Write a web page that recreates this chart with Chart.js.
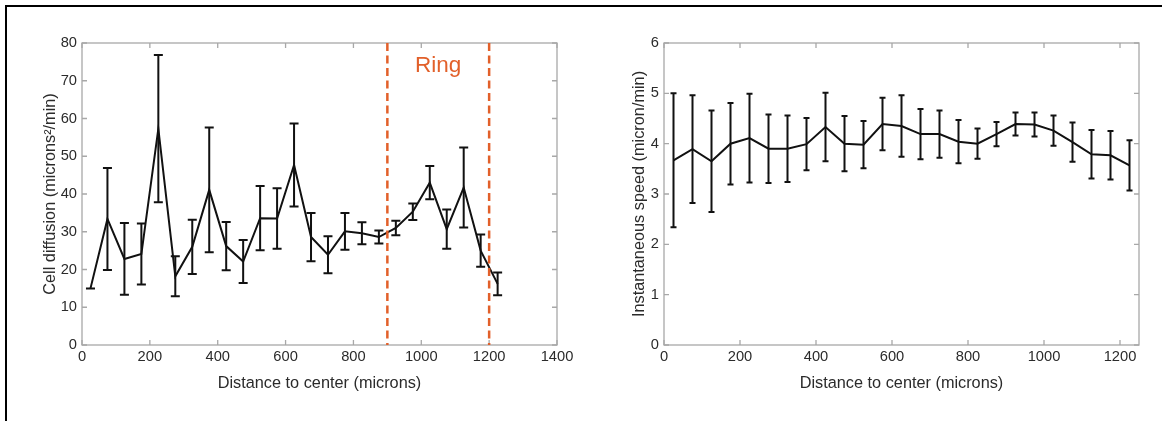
<!DOCTYPE html>
<html lang="en">
<head>
<meta charset="UTF-8">
<title>Cell diffusion and instantaneous speed vs distance to center</title>
<style>
    html, body { margin: 0; padding: 0; background: #fff; }
    #wrap { position: relative; width: 1162px; height: 421px; overflow: hidden; }
    .frame { position: absolute; left: 5px; top: 5px; right: -4px; bottom: -4px; border-top: 2px solid #000; border-left: 2px solid #000; }
    canvas { position: absolute; top: 0; }
    #diffusionChart { left: 0; }
    #speedChart { left: 581px; }
</style>
</head>
<body>
<div id="wrap">
    <div class="frame"></div>
    <canvas id="diffusionChart" width="581" height="421"></canvas>
    <canvas id="speedChart" width="581" height="421"></canvas>
</div>

<script src="https://cdn.jsdelivr.net/npm/chart.js"></script>
<script>
    // bin centres (microns)
    const distance = [25, 75, 125, 175, 225, 275, 325, 375, 425, 475, 525, 575, 625,
                      675, 725, 775, 825, 875, 925, 975, 1025, 1075, 1125, 1175, 1225];

    // left panel: cell diffusion (microns^2/min) and error
    const diffusion    = [15.0, 33.4, 22.8, 24.1, 57.3, 18.2, 26.0, 41.1, 26.2, 22.1, 33.6, 33.5, 47.7,
                          28.6, 23.9, 30.1, 29.6, 28.6, 31.0, 35.3, 43.0, 30.7, 41.7, 25.0, 16.2];
    const diffusionErr = [0, 13.5, 9.5, 8.1, 19.5, 5.3, 7.2, 16.5, 6.4, 5.7, 8.5, 8.0, 11.0,
                          6.4, 4.9, 4.9, 2.9, 1.7, 1.9, 2.2, 4.4, 5.2, 10.6, 4.3, 3.0];

    // right panel: instantaneous speed (micron/min) and error
    const speed    = [3.67, 3.89, 3.65, 4.00, 4.11, 3.90, 3.90, 3.99, 4.33, 4.00, 3.98, 4.39, 4.35,
                      4.19, 4.19, 4.04, 4.00, 4.19, 4.39, 4.38, 4.26, 4.03, 3.79, 3.77, 3.57];
    const speedErr = [1.33, 1.07, 1.01, 0.81, 0.88, 0.68, 0.66, 0.52, 0.68, 0.55, 0.47, 0.52, 0.61,
                      0.50, 0.47, 0.43, 0.30, 0.24, 0.23, 0.24, 0.30, 0.39, 0.48, 0.48, 0.50];

    const ringBounds = [900, 1200];

    const diffXTicks  = [0, 200, 400, 600, 800, 1000, 1200, 1400];
    const diffYTicks  = [0, 10, 20, 30, 40, 50, 60, 70, 80];
    const speedXTicks = [0, 200, 400, 600, 800, 1000, 1200];
    const speedYTicks = [0, 1, 2, 3, 4, 5, 6];

    const FONT = '"Liberation Sans", Arial, sans-serif';
    const TEXT = '#2b2b2b';
    const ORANGE = '#E2602A';

    // matlab style box with inward ticks on all four sides
    const axesBox = {
        id: 'axesBox',
        beforeDatasetsDraw(chart) {
            const { ctx, chartArea: a, scales: { x, y } } = chart;
            ctx.save();
            ctx.strokeStyle = '#a8a8a8';
            ctx.lineWidth = 1.3;
            ctx.strokeRect(a.left, a.top, a.right - a.left, a.bottom - a.top);
            ctx.beginPath();
            x.ticks.forEach(t => {
                const px = x.getPixelForValue(t.value);
                ctx.moveTo(px, a.bottom); ctx.lineTo(px, a.bottom - 5);
                ctx.moveTo(px, a.top); ctx.lineTo(px, a.top + 5);
            });
            y.ticks.forEach(t => {
                const py = y.getPixelForValue(t.value);
                ctx.moveTo(a.left, py); ctx.lineTo(a.left + 5, py);
                ctx.moveTo(a.right, py); ctx.lineTo(a.right - 5, py);
            });
            ctx.stroke();
            ctx.restore();
        }
    };

    const errorBars = {
        id: 'errorBars',
        afterDatasetsDraw(chart, args, opts) {
            const { ctx, scales: { x, y } } = chart;
            const pts = chart.data.datasets[0].data;
            ctx.save();
            ctx.strokeStyle = '#111';
            ctx.lineWidth = 2;
            pts.forEach((p, i) => {
                const e = opts.errors[i];
                const px = x.getPixelForValue(p.x);
                const hi = y.getPixelForValue(p.y + e);
                const lo = y.getPixelForValue(p.y - e);
                ctx.beginPath();
                ctx.moveTo(px, hi); ctx.lineTo(px, lo);
                ctx.moveTo(px - opts.cap, hi); ctx.lineTo(px + opts.cap, hi);
                ctx.moveTo(px - opts.cap, lo); ctx.lineTo(px + opts.cap, lo);
                ctx.stroke();
            });
            ctx.restore();
        }
    };

    const ring = {
        id: 'ring',
        afterDatasetsDraw(chart, args, opts) {
            if (!opts.bounds) return;
            const { ctx, chartArea: a, scales: { x, y } } = chart;
            ctx.save();
            ctx.strokeStyle = ORANGE;
            ctx.lineWidth = 2.5;
            ctx.setLineDash([8, 4.5]);
            opts.bounds.forEach(b => {
                const px = x.getPixelForValue(b);
                ctx.beginPath();
                ctx.moveTo(px, a.top); ctx.lineTo(px, a.bottom);
                ctx.stroke();
            });
            ctx.setLineDash([]);
            ctx.fillStyle = ORANGE;
            ctx.font = '22.5px ' + FONT;
            ctx.textAlign = 'center';
            ctx.textBaseline = 'alphabetic';
            ctx.fillText(opts.label, x.getPixelForValue(opts.at[0]), y.getPixelForValue(opts.at[1]));
            ctx.restore();
        }
    };

    function makeChart(id, s) {
        return new Chart(document.getElementById(id), {
            type: 'line',
            data: {
                datasets: [{
                    data: distance.map((d, i) => ({ x: d, y: s.values[i] })),
                    borderColor: '#111',
                    borderWidth: 2,
                    pointRadius: 0,
                    tension: 0,
                    fill: false
                }]
            },
            options: {
                responsive: false,
                animation: false,
                events: [],
                layout: { padding: { left: s.padLeft, top: 43, right: s.padRight, bottom: 0 } },
                plugins: {
                    legend: { display: false },
                    tooltip: { enabled: false },
                    errorBars: { errors: s.errors, cap: s.cap },
                    ring: s.ring || {}
                },
                scales: {
                    x: {
                        type: 'linear',
                        min: 0,
                        max: s.xMax,
                        grid: { display: false, drawTicks: false },
                        border: { display: false },
                        afterBuildTicks: sc => { sc.ticks = s.xTicks.map(v => ({ value: v })); },
                        afterFit: sc => { sc.height = 76; },
                        ticks: {
                            color: TEXT,
                            font: { family: FONT, size: 14.7 },
                            padding: 3,
                            maxRotation: 0,
                            autoSkip: false,
                            callback: v => String(v)
                        },
                        title: {
                            display: true,
                            text: 'Distance to center (microns)',
                            color: TEXT,
                            font: { family: FONT, size: 16.3 },
                            padding: { top: 0, bottom: 28 }
                        }
                    },
                    y: {
                        min: 0,
                        max: s.yMax,
                        grid: { display: false, drawTicks: false },
                        border: { display: false },
                        afterBuildTicks: sc => { sc.ticks = s.yTicks.map(v => ({ value: v })); },
                        afterFit: sc => { sc.width = s.yWidth; },
                        ticks: {
                            color: TEXT,
                            font: { family: FONT, size: 14.7 },
                            padding: 5,
                            callback: v => String(v)
                        },
                        title: {
                            display: true,
                            text: s.yTitle,
                            color: TEXT,
                            font: { family: FONT, size: 16.3 },
                            padding: { top: 0, bottom: 0 }
                        }
                    }
                }
            },
            plugins: [axesBox, errorBars, ring]
        });
    }

    makeChart('diffusionChart', {
        values: diffusion,
        errors: diffusionErr,
        cap: 4.5,
        xMax: 1400,
        yMax: 80,
        xTicks: diffXTicks,
        yTicks: diffYTicks,
        yTitle: 'Cell diffusion (microns²/min)',
        padLeft: 41,
        yWidth: 41,
        padRight: 24,
        ring: { bounds: ringBounds, label: 'Ring', at: [1050, 72.2] }
    });

    makeChart('speedChart', {
        values: speed,
        errors: speedErr,
        cap: 3,
        xMax: 1250,
        yMax: 6,
        xTicks: speedXTicks,
        yTicks: speedYTicks,
        yTitle: 'Instantaneous speed (micron/min)',
        padLeft: 49,
        yWidth: 34,
        padRight: 23
    });
</script>
</body>
</html>
